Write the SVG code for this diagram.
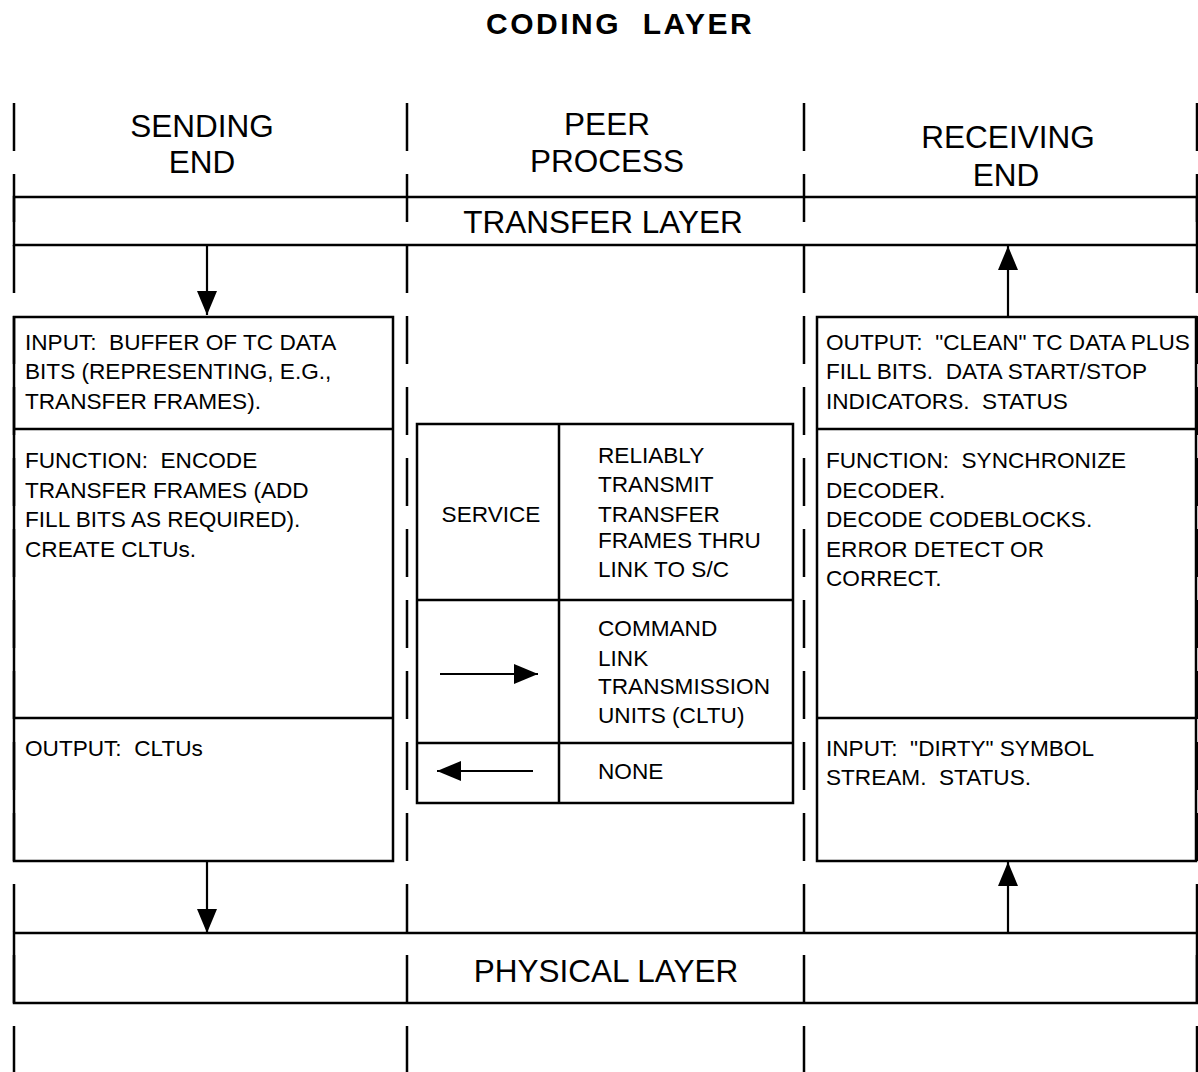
<svg xmlns="http://www.w3.org/2000/svg" width="1198" height="1072" viewBox="0 0 1198 1072">
  <defs>
    <style>
      .bg { fill: #ffffff; }
      .box { fill: none; stroke: #000; stroke-width: 2.5; }
      .rule { stroke: #000; stroke-width: 2.5; fill: none; }
      .lane { stroke: #000; stroke-width: 2.5; stroke-dasharray: 48 23; fill: none; }
      .flow { stroke: #000; stroke-width: 2.2; fill: none; marker-end: url(#head); }
      .title { font-family: "Liberation Sans", Arial, sans-serif; font-weight: bold; font-size: 30px; letter-spacing: 2.5px; white-space: pre; }
      .head { font-family: "Liberation Sans", Arial, sans-serif; font-size: 31.5px; text-anchor: middle; }
      .txt { font-family: "Liberation Sans", Arial, sans-serif; font-size: 22.6px; white-space: pre; }
      .mid { text-anchor: middle; }
    </style>
    <marker id="head" viewBox="0 0 24 20" refX="24" refY="10" markerWidth="24" markerHeight="20" markerUnits="userSpaceOnUse" orient="auto">
      <path d="M0 0 L24 10 L0 20 Z" fill="#000"/>
    </marker>
  </defs>

  <rect class="bg" x="0" y="0" width="1198" height="1072"/>

  <text class="title" x="486" y="34">CODING  LAYER</text>

  <!-- column lifelines -->
  <g id="lifelines">
    <line class="lane" x1="14" y1="103" x2="14" y2="1072"/>
    <line class="lane" x1="407" y1="103" x2="407" y2="1072"/>
    <line class="lane" x1="804" y1="103" x2="804" y2="1072"/>
    <line class="lane" x1="1197" y1="103" x2="1197" y2="1072"/>
  </g>

  <!-- column headings -->
  <g id="col-sending">
    <text class="head" x="202" y="137">SENDING</text>
    <text class="head" x="202" y="173">END</text>
  </g>
  <g id="col-peer">
    <text class="head" x="607" y="135">PEER</text>
    <text class="head" x="607" y="172">PROCESS</text>
  </g>
  <g id="col-receiving">
    <text class="head" x="1008" y="148">RECEIVING</text>
    <text class="head" x="1006" y="186">END</text>
  </g>

  <g id="transfer-layer">
    <rect class="box" x="14" y="197" width="1183" height="48"/>
    <text class="head" x="603" y="233">TRANSFER LAYER</text>
  </g>

  <g id="physical-layer">
    <rect class="box" x="14" y="933" width="1183" height="70"/>
    <text class="head" x="606" y="982">PHYSICAL LAYER</text>
  </g>

  <!-- sending end coding -->
  <g id="sending-coder">
    <rect class="box" x="14" y="317" width="379" height="544"/>
    <line class="rule" x1="14" y1="429" x2="393" y2="429"/>
    <line class="rule" x1="14" y1="718" x2="393" y2="718"/>
    <text class="txt" x="25" y="350">INPUT:  BUFFER OF TC DATA</text>
    <text class="txt" x="25" y="379">BITS (REPRESENTING, E.G.,</text>
    <text class="txt" x="25" y="409">TRANSFER FRAMES).</text>
    <text class="txt" x="25" y="468">FUNCTION:  ENCODE</text>
    <text class="txt" x="25" y="498">TRANSFER FRAMES (ADD</text>
    <text class="txt" x="25" y="527">FILL BITS AS REQUIRED).</text>
    <text class="txt" x="25" y="557">CREATE CLTUs.</text>
    <text class="txt" x="25" y="756">OUTPUT:  CLTUs</text>
  </g>

  <!-- receiving end decoding -->
  <g id="receiving-decoder">
    <rect class="box" x="817" y="317" width="379" height="544"/>
    <line class="rule" x1="817" y1="429" x2="1196" y2="429"/>
    <line class="rule" x1="817" y1="718" x2="1196" y2="718"/>
    <text class="txt" x="826" y="350">OUTPUT:  "CLEAN" TC DATA PLUS</text>
    <text class="txt" x="826" y="379">FILL BITS.  DATA START/STOP</text>
    <text class="txt" x="826" y="409">INDICATORS.  STATUS</text>
    <text class="txt" x="826" y="468">FUNCTION:  SYNCHRONIZE</text>
    <text class="txt" x="826" y="498">DECODER.</text>
    <text class="txt" x="826" y="527">DECODE CODEBLOCKS.</text>
    <text class="txt" x="826" y="557">ERROR DETECT OR</text>
    <text class="txt" x="826" y="586">CORRECT.</text>
    <text class="txt" x="826" y="756">INPUT:  "DIRTY" SYMBOL</text>
    <text class="txt" x="826" y="785">STREAM.  STATUS.</text>
  </g>

  <!-- peer process service table -->
  <g id="peer-service">
    <rect class="box" x="417" y="424" width="376" height="379"/>
    <line class="rule" x1="559" y1="424" x2="559" y2="803"/>
    <line class="rule" x1="417" y1="600" x2="793" y2="600"/>
    <line class="rule" x1="417" y1="743" x2="793" y2="743"/>
    <text class="txt mid" x="491" y="522">SERVICE</text>
    <text class="txt" x="598" y="463">RELIABLY</text>
    <text class="txt" x="598" y="492">TRANSMIT</text>
    <text class="txt" x="598" y="522">TRANSFER</text>
    <text class="txt" x="598" y="548">FRAMES THRU</text>
    <text class="txt" x="598" y="577">LINK TO S/C</text>
    <path class="flow" d="M440 674 H538"/>
    <text class="txt" x="598" y="636">COMMAND</text>
    <text class="txt" x="598" y="666">LINK</text>
    <text class="txt" x="598" y="694">TRANSMISSION</text>
    <text class="txt" x="598" y="723">UNITS (CLTU)</text>
    <path class="flow" d="M533 771 H437"/>
    <text class="txt" x="598" y="779">NONE</text>
  </g>

  <!-- data flow between layers -->
  <g id="connectors">
    <path class="flow" d="M207 245 V315"/>
    <path class="flow" d="M1008 317 V246"/>
    <path class="flow" d="M207 862 V933"/>
    <path class="flow" d="M1008 933 V862"/>
  </g>
</svg>
